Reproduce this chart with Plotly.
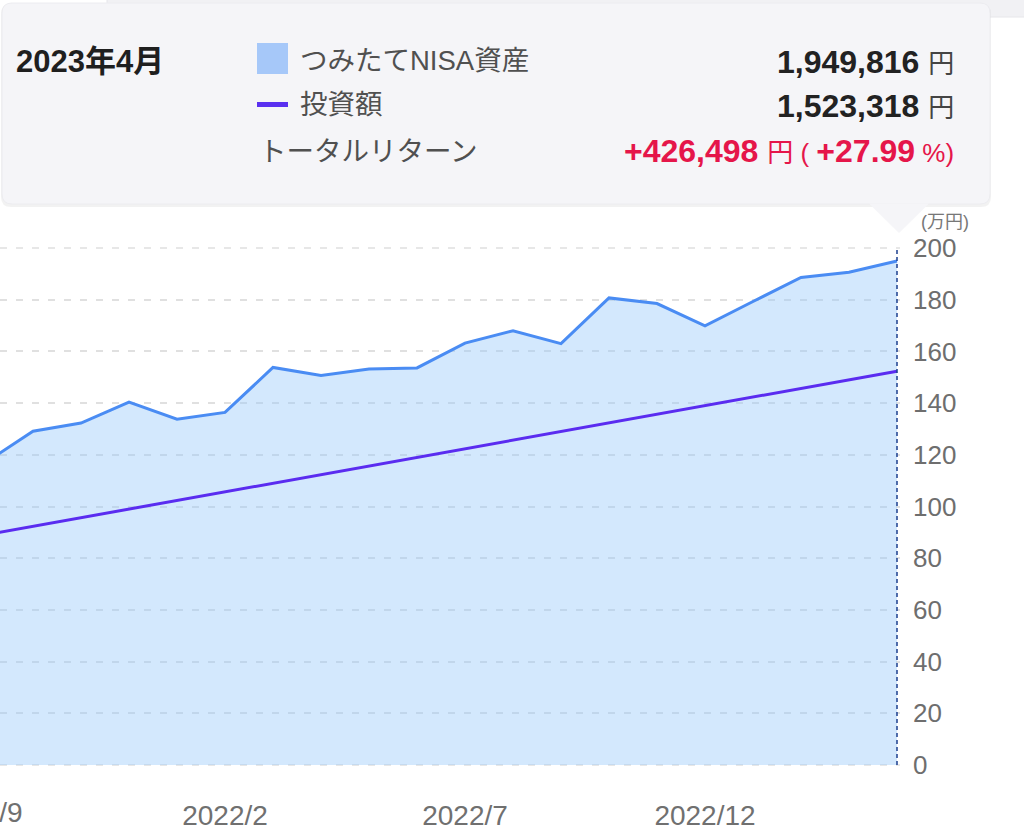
import plotly.graph_objects as go

# ---- data (values in yen) ----
months = ["2021/9", "2021/10", "2021/11", "2021/12", "2022/1", "2022/2", "2022/3",
          "2022/4", "2022/5", "2022/6", "2022/7", "2022/8", "2022/9", "2022/10",
          "2022/11", "2022/12", "2023/1", "2023/2", "2023/3", "2023/4"]
asset_yen = [1169000, 1291000, 1323000, 1404000, 1338000, 1364000, 1538000,
             1507000, 1532000, 1536000, 1632000, 1680000, 1630000, 1807000,
             1785000, 1699000, 1793000, 1886000, 1906000, 1949816]
invest_yen = [889991, 923324, 956657, 989990, 1023323, 1056656, 1089989,
              1123322, 1156655, 1189988, 1223321, 1256654, 1289987, 1323320,
              1356653, 1389986, 1423319, 1456652, 1489985, 1523318]
x_tick_labels = ["2022/2", "2022/7", "2022/12"]
clipped_tick_label = "2021/9"
y_ticks = [0, 20, 40, 60, 80, 100, 120, 140, 160, 180, 200]

asset = [v / 10000 for v in asset_yen]
invest = [v / 10000 for v in invest_yen]

FONT = "Liberation Sans, Noto Sans CJK JP, sans-serif"
W, H = 1024, 839
ML, MR, MT, MB = 0, 124, 247, 73
PW = W - ML - MR
PH = H - MT - MB
YPAD = 0.387  # small pad so the 0 and 200 gridlines are inside the plot
GRID = dict(color="#e0e0e0", width=1.5, dash="7px,9px")


def px(x):
    return (x - ML) / PW


def py(y):
    return (H - MB - y) / PH


fig = go.Figure()
# edge gridlines (plotly skips gridlines at the range edges)
for yv in (y_ticks[0], y_ticks[-1]):
    fig.add_shape(type="line", xref="paper", yref="y", x0=0, x1=1, y0=yv, y1=yv,
                  line=GRID, layer="below")

fig.add_trace(go.Scatter(
    x=months, y=asset, mode="lines", name="つみたてNISA資産",
    line=dict(color="#4a8cf3", width=3), fill="tozeroy",
    fillcolor="rgba(150,200,250,0.42)", hoverinfo="skip"))
fig.add_trace(go.Scatter(
    x=months, y=invest, mode="lines", name="投資額",
    line=dict(color="#5a2cf0", width=3), hoverinfo="skip"))

# vertical dashed cursor line at last month
fig.add_shape(type="line", xref="x", yref="y", x0=months[-1], x1=months[-1],
              y0=0, y1=200, line=dict(color="#1d3f8f", width=1.5, dash="4px,3px"),
              layer="above")


def rrect(x0, y0, x1, y1, r):
    rx, ry = r / PW, r / PH
    X0, X1 = px(x0), px(x1)
    Y0, Y1 = py(y0), py(y1)  # Y0 top, Y1 bottom
    return (f"M{X0+rx},{Y0} L{X1-rx},{Y0} Q{X1},{Y0} {X1},{Y0-ry} "
            f"L{X1},{Y1+ry} Q{X1},{Y1} {X1-rx},{Y1} L{X0+rx},{Y1} "
            f"Q{X0},{Y1} {X0},{Y1+ry} L{X0},{Y0-ry} Q{X0},{Y0} {X0+rx},{Y0} Z")


# background strip behind tooltip
fig.add_shape(type="rect", xref="paper", yref="paper", x0=px(107), x1=px(1030),
              y0=py(17), y1=py(-5), fillcolor="#f1f1f4",
              line=dict(color="#e6e6ea", width=1), layer="above")
# tooltip shadow + box
fig.add_shape(type="path", xref="paper", yref="paper", path=rrect(1, 4, 991, 207, 10),
              fillcolor="rgba(0,0,0,0.05)", line=dict(width=0), layer="above")
fig.add_shape(type="path", xref="paper", yref="paper", path=rrect(2, 3, 990, 204, 10),
              fillcolor="#f5f5f8", line=dict(color="#ececf0", width=1), layer="above")
fig.add_shape(type="path", xref="paper", yref="paper",
              path=f"M{px(869)},{py(203.5)} L{px(929)},{py(203.5)} L{px(899)},{py(233)} Z",
              fillcolor="#f5f5f8", line=dict(width=0), layer="above")
# legend markers
fig.add_shape(type="rect", xref="paper", yref="paper", x0=px(257), x1=px(288),
              y0=py(74), y1=py(43), fillcolor="#a6c8f9", line=dict(width=0), layer="above")
fig.add_shape(type="rect", xref="paper", yref="paper", x0=px(257), x1=px(288),
              y0=py(107), y1=py(102), fillcolor="#5a30f0", line=dict(width=0), layer="above")


def ann(text, x, y, size, color, xanchor="left"):
    fig.add_annotation(text=text, xref="paper", yref="paper", x=px(x), y=py(y),
                       xanchor=xanchor, yanchor="middle", showarrow=False,
                       font=dict(family=FONT, size=size, color=color))


ann("<b>2023年4月</b>", 14, 61, 31, "#1f1f1f")
ann("つみたてNISA資産", 298, 60, 27.5, "#505050")
ann("投資額", 298, 105, 27.5, "#505050")
ann("トータルリターン", 257, 151, 27.5, "#505050")
ann("<b>1,949,816</b> <span style='font-size:26px;color:#444'>円</span>",
    956, 62, 32, "#222222", "right")
ann("<b>1,523,318</b> <span style='font-size:26px;color:#444'>円</span>",
    956, 106, 32, "#222222", "right")
ann("<b>+426,498</b> <span style='font-size:26px'>円 ( </span><b>+27.99</b>"
    "<span style='font-size:26px'> %)</span>",
    956, 151, 32, "#e5164a", "right")
ann("(万円)", 919, 222, 18, "#777777")
# first month label, clipped at the left edge
fig.add_annotation(text=clipped_tick_label, xref="paper", yref="paper", x=px(-20),
                   y=py(812), xanchor="center", yanchor="middle", showarrow=False,
                   font=dict(family=FONT, size=28, color="#707070"))

idx_last = len(months) - 1
fig.update_layout(
    width=W, height=H, margin=dict(l=ML, r=MR, t=MT, b=MB, pad=0),
    paper_bgcolor="white", plot_bgcolor="white", showlegend=False,
    hovermode=False,
    xaxis=dict(type="category", categoryorder="array", categoryarray=months,
               range=[15 / 48, idx_last + 3 / 48], showgrid=False, zeroline=False,
               showline=False, tickmode="array", tickvals=x_tick_labels,
               ticktext=x_tick_labels, ticks="", ticklabelstandoff=30,
               tickfont=dict(family=FONT, size=28, color="#707070")),
    yaxis=dict(range=[-YPAD, 200 + YPAD], side="right", tickmode="array",
               tickvals=y_ticks, ticktext=[str(v) for v in y_ticks], showgrid=True,
               gridcolor=GRID["color"], gridwidth=GRID["width"], griddash=GRID["dash"],
               zeroline=False, showline=False, ticks="", ticklabelstandoff=12,
               tickfont=dict(family=FONT, size=26, color="#6e6e6e")),
)

fig.write_html("out.html", config={"displayModeBar": False},
               post_script="document.body.style.margin='0';document.body.style.overflow='hidden';")
